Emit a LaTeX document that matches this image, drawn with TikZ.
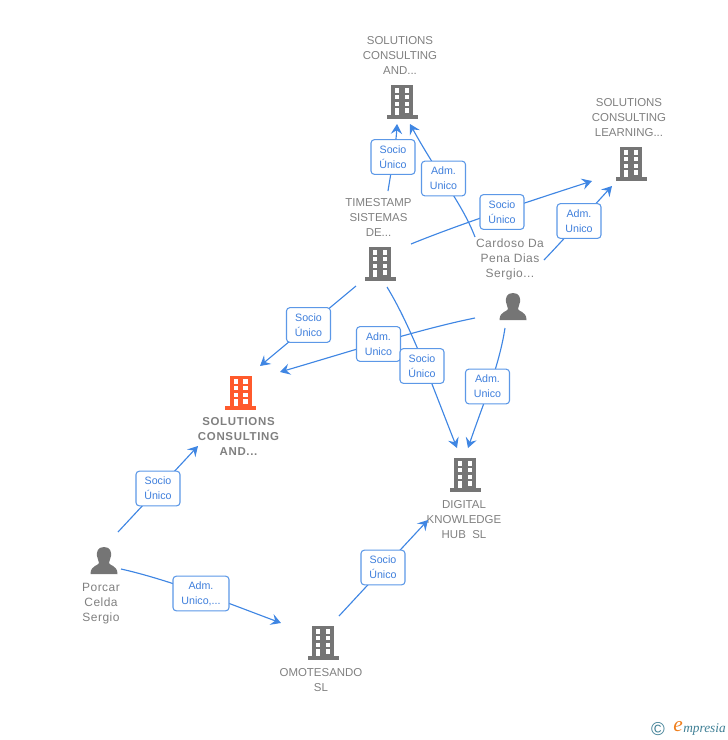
\documentclass[tikz,border=0pt]{standalone}
\usepackage{fontspec}
\setmainfont{Liberation Sans}
\newfontfamily\logofont{Liberation Serif}
\usetikzlibrary{arrows.meta}
\definecolor{linkblue}{HTML}{3F86E3}
\definecolor{txtblue}{HTML}{3F7FDC}
\definecolor{icongrey}{HTML}{757575}
\definecolor{txtgrey}{HTML}{808080}
\definecolor{mainorange}{HTML}{FF5A2C}
\definecolor{logoteal}{HTML}{3F7F95}
\definecolor{logoorange}{HTML}{F07D1A}
\tikzset{
  x=0.75pt,y=-0.75pt,
  conn/.style={draw=linkblue,line width=0.85pt,-{Stealth[length=7.5pt,width=8.5pt,inset=2.8pt]}},
  lab/.style={draw=linkblue!85,line width=0.8pt,rounded corners=2.5pt,fill=white,text=txtblue,
    font=\fontsize{8}{11.25}\selectfont,align=center,minimum height=26pt,inner sep=0pt,anchor=center},
  lab2/.style={lab,minimum width=33pt},
  lab3/.style={lab,minimum width=42pt},
  entname/.style={text=txtgrey,font=\fontsize{8.6}{11.25}\selectfont,align=center,inner sep=0pt,anchor=center},
  persname/.style={text=txtgrey,font=\fontsize{9}{11.25}\selectfont\addfontfeature{LetterSpace=4},align=center,inner sep=0pt,anchor=center},
  mainname/.style={text=txtgrey,font=\fontsize{8.6}{11.25}\selectfont\bfseries\addfontfeature{LetterSpace=6},align=center,inner sep=0pt,anchor=center},
  pics/bldg/.style={code={
    \fill[#1] (-11,-17.5) rectangle (11,13.5);
    \fill[#1] (-15.5,13) rectangle (15.5,16.7);
    \foreach \yy in {-13.7,-7,-0.3}{
      \fill[white] (-7,\yy) rectangle (-2.7,\yy+4.4);
      \fill[white] (2.5,\yy) rectangle (7.3,\yy+4.4);
    }
    \fill[white] (-7,6.3) rectangle (-2.7,13);
    \fill[white] (2.5,6.3) rectangle (7.3,10.7);
  }},
  pics/pers/.style={code={
    \fill[icongrey] (0,-14) .. controls (-6.5,-14) and (-7.5,-9) .. (-7,-5)
      .. controls (-6.5,-1.5) and (-5,0) .. (-5,2)
      .. controls (-5,4.5) and (-13.5,4) .. (-13.5,13) -- (13.5,13)
      .. controls (13.5,4) and (5,4.5) .. (5,2)
      .. controls (5,0) and (6.5,-1.5) .. (7,-5)
      .. controls (7.5,-9) and (6.5,-14) .. (0,-14) -- cycle;
  }},
}
\begin{document}
\begin{tikzpicture}
\useasboundingbox (0,0) rectangle (728,740);
% icons
\pic at (402,102) {bldg=icongrey};
\pic at (631,164) {bldg=icongrey};
\pic at (380,264) {bldg=icongrey};
\pic at (240.5,393) {bldg=mainorange};
\pic at (465,475) {bldg=icongrey};
\pic at (323,643) {bldg=icongrey};
\pic at (513,307) {pers};
\pic at (104,561) {pers};
% names
\node[entname] (nSCA) at (400,55.5) {SOLUTIONS\\CONSULTING\\AND...};
\node[entname] (nSCL) at (629,118) {SOLUTIONS\\CONSULTING\\LEARNING...};
\node[entname] (nTS) at (378.5,217.5) {TIMESTAMP\\SISTEMAS\\DE...};
\node[persname] (nCP) at (510,259.5) {Cardoso Da\\Pena Dias\\Sergio...};
\node[mainname] (nMain) at (238.5,436) {SOLUTIONS\\CONSULTING\\AND...};
\node[entname] (nDK) at (464,519.5) {DIGITAL\\KNOWLEDGE\\HUB\ \ SL};
\node[persname] (nPC) at (101,603.5) {Porcar\\Celda\\Sergio};
\node[entname] (nOM) at (321,680) {OMOTESANDO\\SL};
% connector ends
\coordinate (a1s) at (388,191); \coordinate (a1e) at (397,124);
\coordinate (a2s) at (475,237); \coordinate (a2e) at (410,124);
\coordinate (a3s) at (411,244); \coordinate (a3e) at (592,181);
\coordinate (a4s) at (544,260); \coordinate (a4e) at (612,186);
\coordinate (a5s) at (356,286); \coordinate (a5e) at (260,366);
\coordinate (a6s) at (475,318); \coordinate (a6e) at (280,372);
\coordinate (a7s) at (387,287); \coordinate (a7e) at (457,448);
\coordinate (a8s) at (505,328); \coordinate (a8e) at (468,448);
\coordinate (a9s) at (118,532); \coordinate (a9e) at (198,446);
\coordinate (a10s) at (121,569); \coordinate (a10e) at (281,623);
\coordinate (a11s) at (339,616); \coordinate (a11e) at (428,520);
% connectors
\path[conn] (a1s) .. controls (391,172) and (396,145) .. (a1e);
\path[conn] (a2s) .. controls (462,203) and (438,175) .. (a2e);
\path[conn] (a3s) .. controls (460,224) and (530,201) .. (a3e);
\path[conn] (a4s) .. controls (565,238) and (590,210) .. (a4e);
\path[conn] (a5s) -- (a5e);
\path[conn] (a6s) .. controls (420,329) and (345,353) .. (a6e);
\path[conn] (a7s) .. controls (412,328) and (432,385) .. (a7e);
\path[conn] (a8s) .. controls (499,367) and (483,404) .. (a8e);
\path[conn] (a9s) -- (a9e);
\path[conn] (a10s) .. controls (170,580) and (225,602) .. (a10e);
\path[conn] (a11s) -- (a11e);
% labels
\node[lab2] (l1) at (393,157) {Socio\\Único};
\node[lab2] (l2) at (443.5,178.5) {Adm.\\Unico};
\node[lab2] (l3) at (502,212) {Socio\\Único};
\node[lab2] (l4) at (579,221) {Adm.\\Unico};
\node[lab2] (l5) at (308.5,325) {Socio\\Único};
\node[lab2] (l6) at (378.5,344) {Adm.\\Unico};
\node[lab2] (l7) at (422,366) {Socio\\Único};
\node[lab2] (l8) at (487.5,386.5) {Adm.\\Unico};
\node[lab2] (l9) at (158,488.5) {Socio\\Único};
\node[lab3] (l10) at (201,593.5) {Adm.\\Unico,...};
\node[lab2] (l11) at (383,567.5) {Socio\\Único};
% logo
\node[text=logoteal,inner sep=0pt,font=\fontsize{14}{14}\selectfont] (cpy) at (658,729) {©};
\node[text=logoorange,inner sep=0pt,font=\logofont\itshape\fontsize{16}{16}\selectfont] (lge) at (678,727) {e};
\node[text=logoteal,inner sep=0pt,anchor=west,font=\logofont\itshape\fontsize{10}{10}\selectfont] (lgt) at (683,729) {mpresia};
\end{tikzpicture}
\end{document}
